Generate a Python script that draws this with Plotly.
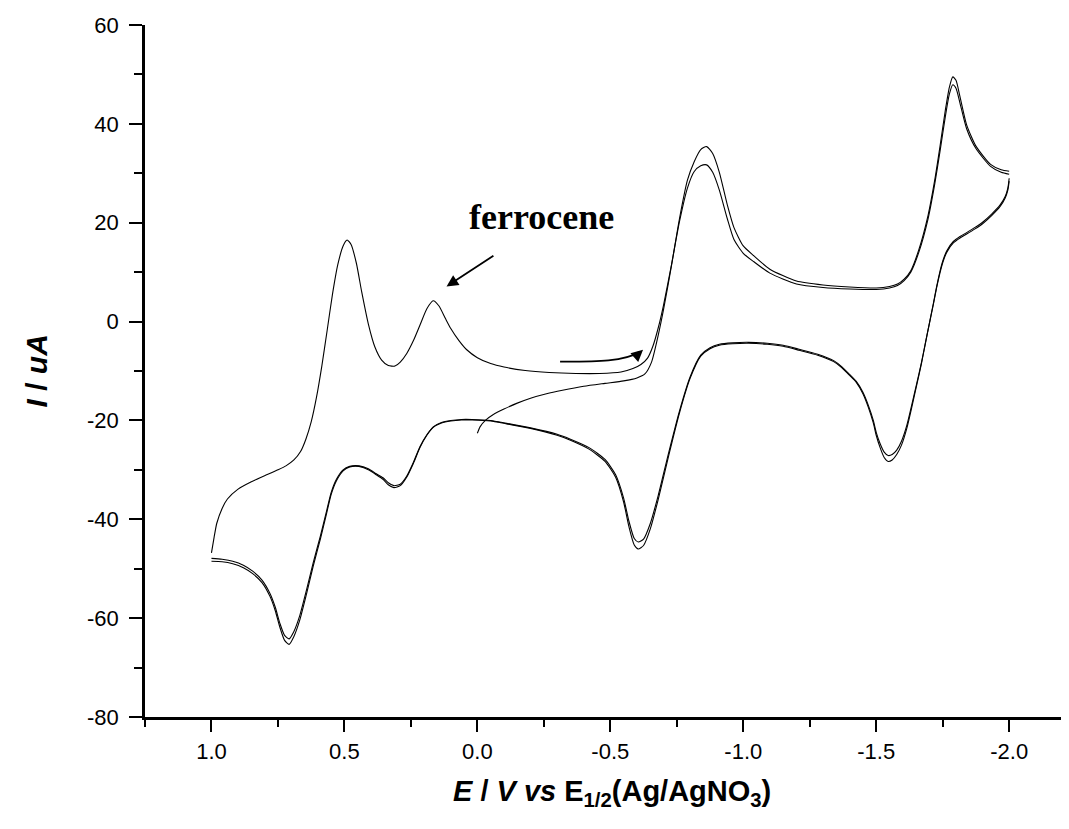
import plotly.graph_objects as go

# ---- data ----
# cycle 1, first sweep from 0.0 V toward -2.0 V (upper branch)
U1_E = [0.0, -0.01, -0.03, -0.06, -0.1, -0.15, -0.2, -0.26, -0.32, -0.4, -0.48, -0.55, -0.6, -0.63,
        -0.655, -0.68, -0.7, -0.73, -0.76, -0.79, -0.815, -0.84, -0.862, -0.885, -0.91, -0.94, -0.965,
        -1.0, -1.04, -1.1, -1.2, -1.3, -1.4, -1.5, -1.55, -1.58, -1.605, -1.63, -1.66, -1.695, -1.72,
        -1.74, -1.76, -1.775, -1.788, -1.8, -1.815, -1.84, -1.875, -1.93, -1.97, -2.0]
U1_I = [-22.6, -21.3, -20.0, -18.8, -17.7, -16.5, -15.5, -14.6, -13.9, -13.1, -12.5, -12.0, -11.4, -10.6,
        -8.2, -2.8, 2.4, 11.3, 20.8, 28.6, 32.3, 34.8, 35.4, 34.0, 30.2, 23.6, 19.0,
        15.3, 13.3, 10.6, 8.2, 7.4, 7.0, 6.8, 7.1, 7.6, 8.6, 10.3, 14.5, 21.5, 28.6,
        35.5, 42.8, 47.4, 49.5, 48.8, 45.5, 39.8, 35.5, 31.8, 30.7, 30.4]

# reverse sweeps from -2.0 V back to 1.0 V (lower branches, two cycles)
L_E = [-2.0, -1.995, -1.985, -1.966, -1.935, -1.9, -1.87, -1.84, -1.815, -1.79, -1.765, -1.75, -1.74,
       -1.727, -1.715, -1.7, -1.685, -1.67, -1.652, -1.633, -1.615, -1.595, -1.577, -1.56, -1.545, -1.53,
       -1.514, -1.5, -1.489, -1.47, -1.45, -1.425, -1.4, -1.37, -1.34, -1.28, -1.21, -1.15, -1.09, -1.02,
       -0.96, -0.91, -0.875, -0.84, -0.8, -0.76, -0.72, -0.68, -0.65, -0.625, -0.605, -0.59, -0.57, -0.55,
       -0.52, -0.48, -0.42, -0.35, -0.3, -0.2, -0.11, -0.05, 0.02, 0.06, 0.1, 0.135, 0.166, 0.19, 0.216,
       0.24, 0.266, 0.29, 0.314, 0.335, 0.355, 0.38, 0.41, 0.445, 0.48, 0.505, 0.53, 0.55, 0.567, 0.59,
       0.618, 0.643, 0.668, 0.69, 0.708, 0.725, 0.743, 0.76, 0.78, 0.81, 0.845, 0.88, 0.92, 0.96, 1.0]
L1_I = [29.0, 27.0, 25.3, 23.6, 21.8, 20.1, 19.0, 18.0, 17.2, 16.2, 14.3, 12.2, 10.2,
        7.0, 3.7, -0.3, -4.4, -8.5, -12.9, -17.5, -21.6, -25.0, -26.9, -28.0, -28.3, -27.5,
        -25.4, -23.0, -20.5, -17.3, -14.6, -12.3, -10.9, -9.3, -8.1, -6.8, -5.8, -5.0, -4.6, -4.4,
        -4.5, -4.8, -5.5, -7.0, -11.5, -18.5, -27.0, -36.0, -42.0, -45.3, -46.0, -45.2, -41.5, -36.5,
        -31.5, -28.3, -25.8, -24.0, -23.0, -21.6, -20.7, -20.1, -19.9, -19.9, -20.1, -20.5, -21.4, -23.0, -25.5,
        -28.6, -31.5, -33.2, -33.6, -33.0, -31.9, -31.0, -30.0, -29.3, -29.4, -30.2, -32.2, -35.0, -38.8, -43.9,
        -49.6, -55.2, -60.4, -63.7, -65.3, -64.5, -61.8, -58.5, -55.6, -52.8, -51.0, -49.8, -49.0, -48.6, -48.5]
L2_I = [28.4, 26.6, 25.0, 23.3, 21.5, 19.8, 18.7, 17.7, 16.9, 15.9, 14.0, 11.9, 9.9,
        6.8, 3.5, -0.4, -4.3, -8.3, -12.6, -17.0, -21.0, -24.2, -26.0, -26.9, -27.1, -26.4,
        -24.6, -22.4, -20.0, -16.9, -14.3, -12.1, -10.7, -9.1, -7.9, -6.6, -5.6, -4.8, -4.4, -4.2,
        -4.3, -4.6, -5.3, -6.8, -11.2, -18.1, -26.4, -35.2, -40.9, -44.0, -44.6, -43.9, -40.4, -35.7,
        -31.0, -27.9, -25.5, -23.8, -22.8, -21.5, -20.6, -20.0, -19.8, -19.8, -20.0, -20.4, -21.3, -22.9, -25.3,
        -28.4, -31.3, -32.9, -33.2, -32.6, -31.6, -30.8, -29.8, -29.2, -29.3, -30.0, -31.9, -34.6, -38.3, -43.3,
        -48.9, -54.4, -59.5, -62.7, -64.2, -63.5, -61.0, -57.8, -55.0, -52.3, -50.5, -49.3, -48.5, -48.1, -47.9]

# cycle 2 forward sweep from 1.0 V to -2.0 V (upper branch, with ferrocene)
U2_E = [1.0, 0.99, 0.98, 0.96, 0.94, 0.9, 0.85, 0.8, 0.75, 0.72, 0.69, 0.665, 0.645, 0.625, 0.605,
        0.585, 0.565, 0.545, 0.525, 0.505, 0.49, 0.475, 0.455, 0.435, 0.41, 0.385, 0.36, 0.335, 0.31,
        0.29, 0.265, 0.24, 0.215, 0.19, 0.166, 0.145, 0.12, 0.1, 0.07, 0.04, 0.0, -0.05, -0.1, -0.18,
        -0.27, -0.37, -0.46, -0.54, -0.585, -0.615, -0.64, -0.66, -0.68, -0.7, -0.73, -0.76, -0.79,
        -0.815, -0.84, -0.862, -0.885, -0.91, -0.94, -0.965, -1.0, -1.04, -1.1, -1.2, -1.3, -1.4, -1.5,
        -1.55, -1.58, -1.605, -1.63, -1.66, -1.695, -1.72, -1.74, -1.76, -1.775, -1.788, -1.8, -1.815,
        -1.84, -1.875, -1.93, -1.97, -2.0]
U2_I = [-46.8, -43.6, -40.8, -37.8, -35.9, -33.9, -32.4, -31.2, -30.0, -29.2, -28.0, -26.3, -23.8, -20.3, -15.3,
        -9.0, -1.8, 5.5, 11.5, 15.3, 16.5, 15.6, 11.8, 6.0, -0.5, -5.2, -7.8, -8.9, -9.0,
        -8.2, -6.4, -3.8, -0.6, 2.6, 4.2, 3.2, 0.6, -1.4, -3.8, -5.7, -7.3, -8.5, -9.2, -9.9,
        -10.3, -10.5, -10.5, -10.2, -9.5, -8.7, -7.4, -5.0, -1.3, 3.3, 11.5, 20.2, 27.0,
        30.3, 31.5, 31.7, 30.2, 26.6, 20.8, 16.6, 13.8, 12.1, 9.8, 7.6, 6.9, 6.6, 6.5,
        6.8, 7.3, 8.3, 10.0, 14.0, 20.8, 27.8, 34.5, 41.5, 46.0, 47.9, 47.2, 44.2,
        39.0, 35.0, 31.4, 30.2, 29.8]

X_TICKS = [1.0, 0.5, 0.0, -0.5, -1.0, -1.5, -2.0]
X_TICK_TEXT = ["1.0", "0.5", "0.0", "-0.5", "-1.0", "-1.5", "-2.0"]
Y_TICKS = [60, 40, 20, 0, -20, -40, -60, -80]
Y_TICK_TEXT = ["60", "40", "20", "0", "-20", "-40", "-60", "-80"]

# annotation anchors (data coordinates)
LABEL_POS = (-0.24, 21.2)
FC_ARROW_HEAD = (0.116, 7.1)
FC_ARROW_TAIL = (-0.066, 13.5)
SCAN_ARROW_PATH = "M -0.311,-8.1 C -0.44,-8.1 -0.55,-8.2 -0.61,-6.1"
SCAN_ARROW_HEAD = (-0.623, -5.7)
SCAN_ARROW_TAIL = (-0.59, -7.3)

fig = go.Figure()
line = dict(color="black", width=1.1, shape="spline", smoothing=0.6)
for xs, ys in [(U1_E, U1_I), (L_E, L1_I), (U2_E, U2_I), (L_E, L2_I)]:
    fig.add_trace(go.Scatter(x=xs, y=ys, mode="lines", line=line, showlegend=False, hoverinfo="skip"))

tickfont = dict(family="Liberation Sans, Arial, sans-serif", size=22, color="black")
fig.update_xaxes(range=[1.25, -2.225], tickmode="array", tickvals=X_TICKS, ticktext=X_TICK_TEXT,
                 ticks="outside", ticklen=12, tickwidth=2, tickcolor="black",
                 minor=dict(dtick=0.25, tick0=0, ticks="outside", ticklen=7, tickwidth=2, tickcolor="black"),
                 showline=True, linecolor="black", linewidth=2.5, showgrid=False, zeroline=False,
                 tickfont=tickfont, ticklabelstandoff=1)
fig.update_yaxes(range=[-80, 60], tickmode="array", tickvals=Y_TICKS, ticktext=Y_TICK_TEXT,
                 ticks="outside", ticklen=13, tickwidth=2, tickcolor="black",
                 minor=dict(dtick=10, tick0=0, ticks="outside", ticklen=8, tickwidth=2, tickcolor="black"),
                 showline=True, linecolor="black", linewidth=2.5, showgrid=False, zeroline=False,
                 tickfont=tickfont, ticklabelstandoff=6)

fig.add_shape(type="path", path=SCAN_ARROW_PATH, xref="x", yref="y",
              line=dict(color="black", width=1.8))

annos = [
    dict(text="<i>E</i> / <i>V</i> <i>vs</i> E<sub>1/2</sub>(Ag/AgNO<sub>3</sub>)", xref="paper", yref="paper",
         x=0.505, y=0, yanchor="middle", yshift=-76, showarrow=False,
         font=dict(family="Liberation Sans, Arial, sans-serif", size=29, color="black", weight="bold")),
    dict(text="<i>I</i> / <i>uA</i>", xref="paper", yref="paper", x=0, y=0.5, xshift=-128,
         textangle=-90, showarrow=False,
         font=dict(family="Liberation Sans, Arial, sans-serif", size=30, color="black", weight="bold")),
    dict(text="ferrocene", x=LABEL_POS[0], y=LABEL_POS[1], xref="x", yref="y", showarrow=False,
         font=dict(family="Liberation Serif, Times New Roman, serif", size=36, color="black", weight="bold")),
    dict(text="", x=FC_ARROW_HEAD[0], y=FC_ARROW_HEAD[1], ax=FC_ARROW_TAIL[0], ay=FC_ARROW_TAIL[1],
         xref="x", yref="y", axref="x", ayref="y", showarrow=True, arrowhead=2, arrowsize=1.3,
         arrowwidth=1.8, arrowcolor="black"),
    dict(text="", x=SCAN_ARROW_HEAD[0], y=SCAN_ARROW_HEAD[1], ax=SCAN_ARROW_TAIL[0], ay=SCAN_ARROW_TAIL[1],
         xref="x", yref="y", axref="x", ayref="y", showarrow=True, arrowhead=2, arrowsize=1.3,
         arrowwidth=1.8, arrowcolor="black"),
]
fig.update_layout(width=1061, height=821, autosize=False, margin=dict(l=137, r=0, t=17, b=112),
                  paper_bgcolor="white", plot_bgcolor="white", annotations=annos)

fig.write_html("out.html")
